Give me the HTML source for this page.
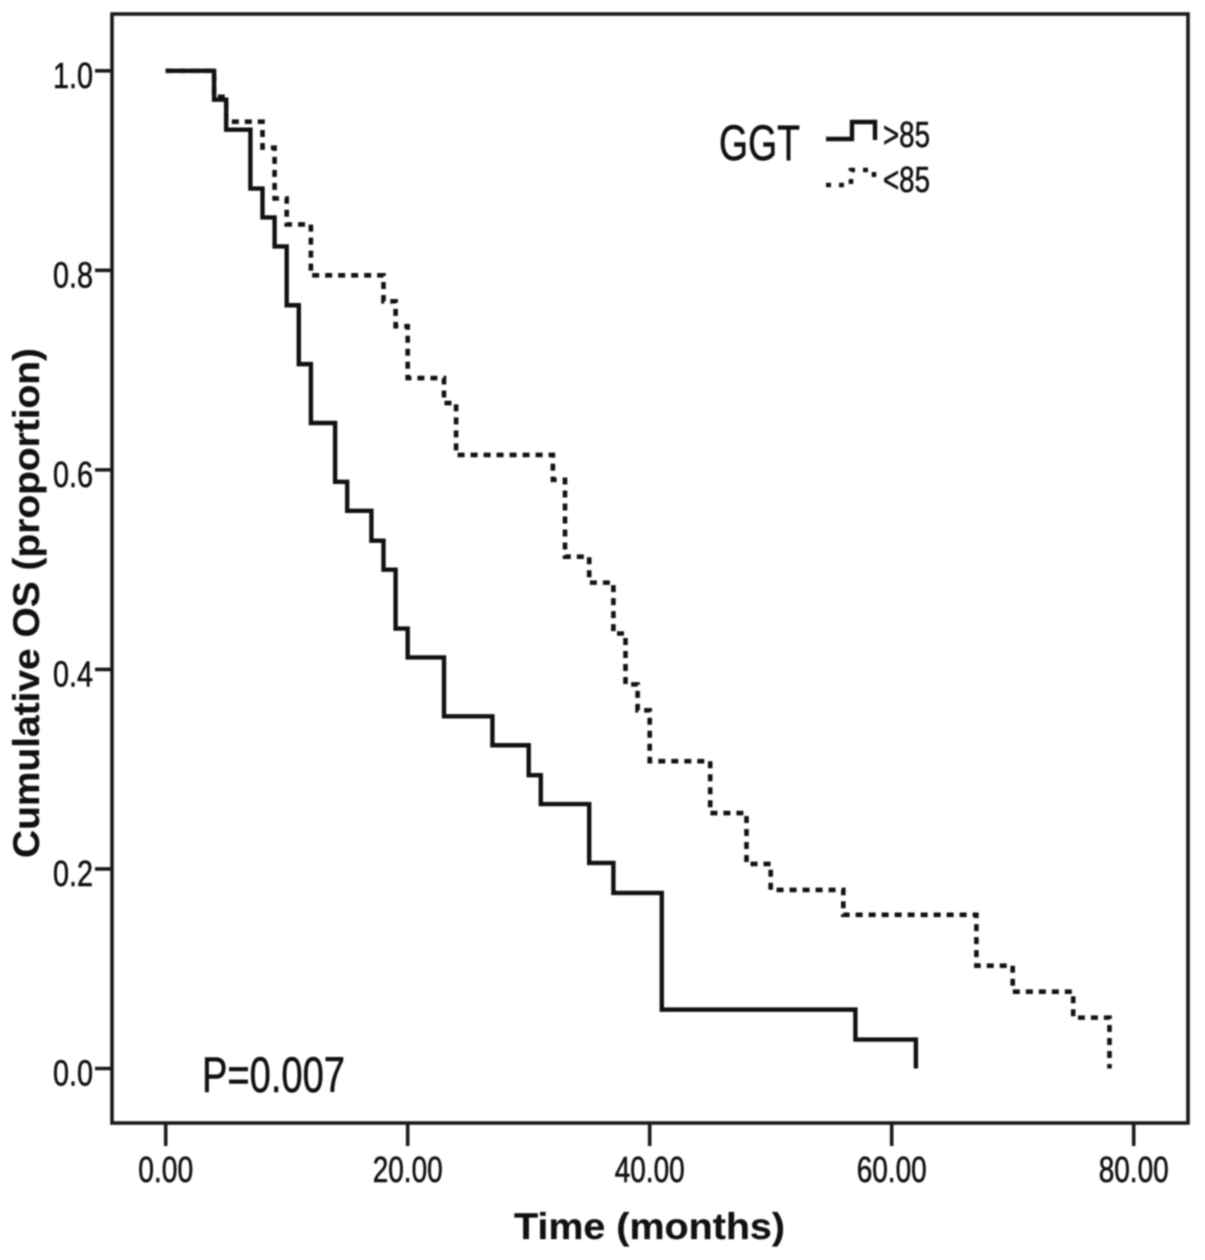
<!DOCTYPE html>
<html lang="en">
<head>
<meta charset="utf-8">
<title>Cumulative OS by GGT</title>
<style>
  html, body { margin: 0; padding: 0; background: #fff; }
  body { width: 1205px; height: 1260px; overflow: hidden; }
  svg { display: block; filter: blur(0.7px); }
  text { font-family: "Liberation Sans", sans-serif; fill: #111; stroke: #111; stroke-width: 0.6px; }
  text.bold-title { stroke-width: 0.2px; }
</style>
</head>
<body>
<svg id="chart" xmlns="http://www.w3.org/2000/svg" width="1205" height="1260" viewBox="0 0 1205 1260">
  <rect x="0" y="0" width="1205" height="1260" fill="#fff"/>
  <rect x="112" y="14" width="1076" height="1109" fill="none" stroke="#1a1a1a" stroke-width="3.6"/>
  <g id="x-axis"></g>
  <g id="y-axis"></g>
  <g id="series"></g>

  <text class="bold-title" x="514" y="1239" font-size="37" font-weight="700" textLength="271" lengthAdjust="spacingAndGlyphs">Time (months)</text>
  <text class="bold-title" transform="translate(39,858) rotate(-90)" x="0" y="0" font-size="37" font-weight="700" textLength="510" lengthAdjust="spacingAndGlyphs">Cumulative OS (proportion)</text>

  <text x="202" y="1092" font-size="50" textLength="143" lengthAdjust="spacingAndGlyphs">P=0.007</text>

  <g>
    <text x="719" y="160" font-size="50" textLength="81" lengthAdjust="spacingAndGlyphs">GGT</text>
    <path d="M826 139 H852 V122 H875 V140" fill="none" stroke="#111" stroke-width="4.4"/>
    <text x="883" y="147" font-size="36" textLength="47" lengthAdjust="spacingAndGlyphs">&gt;85</text>
    <path d="M826 185 H851 V170 H874 V180" fill="none" stroke="#111" stroke-width="4.6" stroke-dasharray="5 8"/>
    <text x="883" y="192" font-size="36" textLength="47" lengthAdjust="spacingAndGlyphs">&lt;85</text>
  </g>
</svg>
<script>
const xTicks = [0, 20, 40, 60, 80];
const xTickLabels = ["0.00", "20.00", "40.00", "60.00", "80.00"];
const yTicks = [0, 0.2, 0.4, 0.6, 0.8, 1.0];
const yTickLabels = ["0.0", "0.2", "0.4", "0.6", "0.8", "1.0"];

const highGgtTimes = [0, 4, 5, 7, 8, 9, 10, 11, 12, 14, 15, 17, 18, 19, 20, 23, 27, 30, 31, 35, 37, 41, 57, 62];
const highGgtSurvival = [1.0, 0.971, 0.941, 0.882, 0.853, 0.824, 0.765, 0.706, 0.647, 0.588, 0.559, 0.529, 0.5, 0.441, 0.412, 0.353, 0.324, 0.294, 0.265, 0.206, 0.176, 0.059, 0.029, 0.0];

const lowGgtTimes = [0, 4, 5, 8, 9, 10, 12, 18, 19, 20, 23, 24, 32, 33, 35, 37, 38, 39, 40, 45, 48, 50, 56, 67, 70, 75, 78];
const lowGgtSurvival = [1.0, 0.974, 0.949, 0.923, 0.872, 0.846, 0.795, 0.769, 0.744, 0.692, 0.667, 0.615, 0.59, 0.513, 0.487, 0.436, 0.385, 0.359, 0.308, 0.256, 0.205, 0.179, 0.154, 0.103, 0.077, 0.051, 0.0];

function xScale(t) { return 165.7 + t * 12.1; }
function yScale(v) { return 1068.5 - v * 997.7; }

const SVG_NS = "http://www.w3.org/2000/svg";
const xAxis = document.getElementById("x-axis");
const yAxis = document.getElementById("y-axis");
const seriesGroup = document.getElementById("series");

xTicks.forEach(function (t, i) {
  const line = document.createElementNS(SVG_NS, "line");
  
  
  line.setAttribute("x1", xScale(t));
  line.setAttribute("x2", xScale(t));
  line.setAttribute("y1", 1123);
  line.setAttribute("y2", 1146);
  line.setAttribute("stroke", "#1a1a1a");
  line.setAttribute("stroke-width", 3.6);
  xAxis.appendChild(line);

  const label = document.createElementNS(SVG_NS, "text");
  
  
  const w = xTickLabels[i].length > 4 ? 70 : 55;
  label.setAttribute("x", xScale(t) - w / 2);
  label.setAttribute("y", 1182);
  label.setAttribute("font-size", 36);
  label.setAttribute("textLength", w);
  label.setAttribute("lengthAdjust", "spacingAndGlyphs");
  label.textContent = xTickLabels[i];
  xAxis.appendChild(label);
});

yTicks.forEach(function (v, i) {
  const line = document.createElementNS(SVG_NS, "line");
  
  
  line.setAttribute("x1", 95);
  line.setAttribute("x2", 112);
  line.setAttribute("y1", yScale(v));
  line.setAttribute("y2", yScale(v));
  line.setAttribute("stroke", "#1a1a1a");
  line.setAttribute("stroke-width", 3.6);
  yAxis.appendChild(line);

  const label = document.createElementNS(SVG_NS, "text");
  
  
  label.setAttribute("x", 53);
  label.setAttribute("y", yScale(v) + 17);
  label.setAttribute("font-size", 36);
  label.setAttribute("textLength", 40);
  label.setAttribute("lengthAdjust", "spacingAndGlyphs");
  label.textContent = yTickLabels[i];
  yAxis.appendChild(label);
});

function stepPath(times, values) {
  let d = "M" + xScale(times[0]) + " " + yScale(values[0]);
  for (let i = 1; i < times.length; i++) {
    d += " H" + xScale(times[i]) + " V" + yScale(values[i]);
  }
  return d;
}

const highCurve = document.createElementNS(SVG_NS, "path");


highCurve.setAttribute("d", stepPath(highGgtTimes, highGgtSurvival));
highCurve.setAttribute("fill", "none");
highCurve.setAttribute("stroke", "#111");
highCurve.setAttribute("stroke-width", 4.4);
seriesGroup.appendChild(highCurve);

const lowCurve = document.createElementNS(SVG_NS, "path");


lowCurve.setAttribute("d", stepPath(lowGgtTimes, lowGgtSurvival));
lowCurve.setAttribute("fill", "none");
lowCurve.setAttribute("stroke", "#111");
lowCurve.setAttribute("stroke-width", 4.6);
lowCurve.setAttribute("stroke-dasharray", "7 6");
seriesGroup.appendChild(lowCurve);
</script>
</body>
</html>
